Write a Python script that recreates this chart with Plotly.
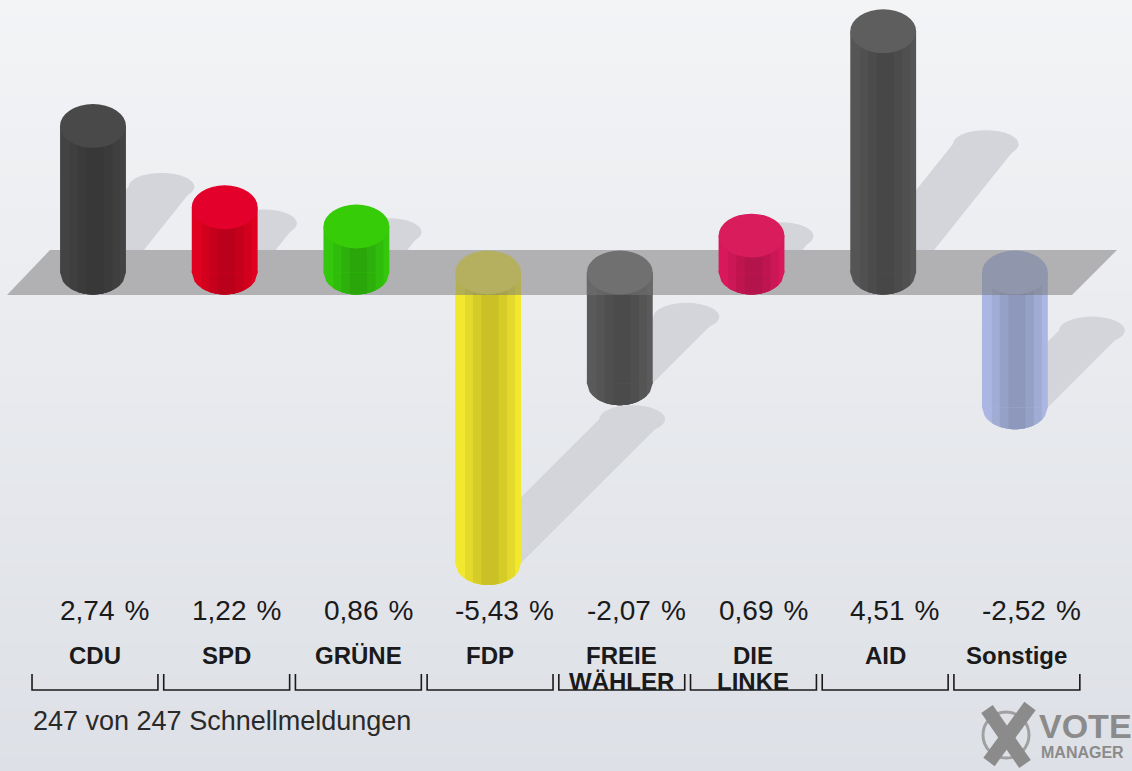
import plotly.graph_objects as go
import math

# ---------------- data ----------------
parties = ["CDU", "SPD", "GRÜNE", "FDP", "FREIE<br>WÄHLER", "DIE<br>LINKE", "AID", "Sonstige"]
values = [2.74, 1.22, 0.86, -5.43, -2.07, 0.69, 4.51, -2.52]
body_colors = ["#434343", "#e0001f", "#33c80c", "#f2e82e", "#5a5a5a", "#d8185a", "#555555", "#abb7e2"]
cap_colors = ["#494949", "#e3002a", "#36cc08", "#f2ea48", "#6a6a6a", "#d81c5c", "#5e5e5e", "#abb6e0"]
footer_text = "247 von 247 Schnellmeldungen"

# ---------------- geometry helpers (layout only) ----------------
W, H = 1132, 771
ZERO_PX, PX_PER_UNIT = 272.5, 53.5
X0_PX, PX_PER_CAT = 93.0, 131.7
XR = [-X0_PX / PX_PER_CAT, (W - X0_PX) / PX_PER_CAT]
YR = [-(H - ZERO_PX) / PX_PER_UNIT, ZERO_PX / PX_PER_UNIT]


def py(p):
    return (ZERO_PX - p) / PX_PER_UNIT


def px(p):
    return (p - X0_PX) / PX_PER_CAT


def pxp(p):
    return p / W


def pyp(p):
    return 1 - p / H


HALF_W = 0.25          # half bar width in x units
RY = 0.41              # vertical semi-axis of the cylinder ellipses
BAND_H = 0.42          # half thickness of grey band
BG_TOP, BG_BOT = (243, 244, 246), (221, 224, 230)
BAND_RGB = (118, 118, 118)
BAND_A = 0.5
SHADOW = "#d3d5da"
# shading layers: (width, darken factor)
LAYERS = [(0.5, 1.0), (0.38, 0.94), (0.26, 0.88), (0.13, 0.83)]
SHADE_C = 0.015


def hex2rgb(h):
    h = h.lstrip("#")
    return tuple(int(h[i:i + 2], 16) for i in (0, 2, 4))


def rgb(c):
    return "rgb(%d,%d,%d)" % tuple(int(round(v)) for v in c)


def darken(h, f):
    return tuple(v * f for v in hex2rgb(h))


def blend(c):
    return tuple(v * (1 - BAND_A) + bv * BAND_A for v, bv in zip(c, BAND_RGB))


def bg_at(p):
    t = p / H
    return tuple(a + (b - a) * t for a, b in zip(BG_TOP, BG_BOT))


xs = list(range(len(values)))

shapes_below = []
shapes_above = []

# background gradient
NSTRIP = 48
for k in range(NSTRIP):
    p0, p1 = H * k / NSTRIP, H * (k + 1) / NSTRIP
    shapes_below.append(dict(type="rect", xref="paper", yref="paper", layer="below",
                             x0=0, x1=1, y0=pyp(p1) - 0.002, y1=pyp(p0),
                             fillcolor=rgb(bg_at((p0 + p1) / 2)), line=dict(width=0)))

# shadows
for i, v in zip(xs, values):
    L = abs(v) + 2 * RY
    if v >= 0:
        dy, dx, y0 = 0.45 * L, 0.146 * L, 0.0
    else:
        dy, dx, y0 = 0.43 * L, 0.175 * L, v
    path = "M %f,%f L %f,%f L %f,%f L %f,%f Z" % (
        i - HALF_W, y0, i + HALF_W, y0, i + HALF_W + dx, y0 + dy, i - HALF_W + dx, y0 + dy)
    shapes_below.append(dict(type="path", path=path, xref="x", yref="y", layer="below",
                             fillcolor=SHADOW, line=dict(width=0)))
    shapes_below.append(dict(type="circle", xref="x", yref="y", layer="below",
                             x0=i - HALF_W + dx, x1=i + HALF_W + dx, y0=y0 + dy - 0.26, y1=y0 + dy + 0.26,
                             fillcolor=SHADOW, line=dict(width=0)))

# grey band (parallelogram)
band_col = rgb(blend(bg_at(272)))
band_path = "M %f,%f L %f,%f L %f,%f L %f,%f Z" % (
    px(7), -BAND_H, px(50), BAND_H, px(1117), BAND_H, px(1072), -BAND_H)
shapes_below.append(dict(type="path", path=band_path, xref="x", yref="y", layer="below",
                         fillcolor=band_col, line=dict(width=0)))


# rounded bottom ends, shaded in the same layers as the body
def half_ellipse_segment(i, yc, a, b, n=24, overlap=0.03):
    pts = []
    for k in range(n + 1):
        x = b + (a - b) * k / n
        u = max(-1.0, min(1.0, (x - i) / HALF_W))
        pts.append((x, yc - RY * math.sqrt(1 - u * u)))
    s = "M %f,%f L %f,%f " % (a, yc + overlap, b, yc + overlap)
    s += " ".join("L %f,%f" % p for p in pts) + " Z"
    return s


for i, v, bc in zip(xs, values, body_colors):
    yc = 0.0 if v >= 0 else v
    for w, f in LAYERS:
        c = i + (0 if w == 0.5 else SHADE_C)
        a, b = max(i - HALF_W, c - w / 2), min(i + HALF_W, c + w / 2)
        shapes_below.append(dict(type="path", xref="x", yref="y", layer="below",
                                 path=half_ellipse_segment(i, yc, a, b),
                                 fillcolor=rgb(darken(bc, f)), line=dict(width=0)))

# caps / band overlay for hanging bars
for i, v, bc, cc in zip(xs, values, body_colors, cap_colors):
    if v >= 0:
        shapes_above.append(dict(type="circle", xref="x", yref="y", layer="above",
                                 x0=i - HALF_W, x1=i + HALF_W, y0=v - RY, y1=v + RY,
                                 fillcolor=cc, line=dict(width=0)))
    else:
        for w, f in LAYERS:
            c = i + (0 if w == 0.5 else SHADE_C)
            shapes_above.append(dict(type="rect", xref="x", yref="y", layer="above",
                                     x0=c - w / 2, x1=c + w / 2, y0=-BAND_H, y1=0,
                                     fillcolor=rgb(blend(darken(bc, f))), line=dict(width=0)))
        shapes_above.append(dict(type="circle", xref="x", yref="y", layer="above",
                                 x0=i - HALF_W, x1=i + HALF_W, y0=-RY, y1=RY,
                                 fillcolor=rgb(blend(hex2rgb(cc))), line=dict(width=0)))

# brackets under names
yb_top, yb_bot = py(674), py(690)
for i in xs:
    a, b = i - 0.478 + 0.015, i + 0.478 + 0.015
    shapes_above.append(dict(type="path", xref="x", yref="y", layer="above",
                             path="M %f,%f L %f,%f L %f,%f L %f,%f" % (a, yb_top, a, yb_bot, b, yb_bot, b, yb_top),
                             line=dict(color="#1a1a1a", width=1.6)))

# logo shapes (paper coords)
logo_grey = "#8b8b8b"
shapes_above.append(dict(type="circle", xref="paper", yref="paper", layer="above",
                         x0=pxp(983), x1=pxp(1029), y0=pyp(758), y1=pyp(712),
                         line=dict(color="#a0a0a0", width=3)))
shapes_above.append(dict(type="line", xref="paper", yref="paper", layer="above",
                         x0=pxp(989), y0=pyp(762), x1=pxp(1030), y1=pyp(706),
                         line=dict(color=logo_grey, width=14)))
shapes_above.append(dict(type="line", xref="paper", yref="paper", layer="above",
                         x0=pxp(987), y0=pyp(709), x1=pxp(1025), y1=pyp(764),
                         line=dict(color=logo_grey, width=14)))

# ---------------- traces ----------------
fig = go.Figure()
for w, f in LAYERS:
    kw = {}
    if w != 0.5:
        kw["offset"] = SHADE_C - w / 2
    fig.add_trace(go.Bar(x=xs, y=values, width=w,
                         marker=dict(color=[rgb(darken(bc, f)) for bc in body_colors], line=dict(width=0)),
                         hoverinfo="skip", showlegend=False, **kw))

# ---------------- annotations ----------------
FONT = "Liberation Sans, Arial, sans-serif"
ann = []
for i, v in zip(xs, values):
    txt = ("%.2f" % v).replace(".", ",") + " \u200a%"
    ann.append(dict(x=i - HALF_W - 0.015, y=py(610), xref="x", yref="y", text=txt, showarrow=False,
                    xanchor="left", yanchor="middle",
                    font=dict(family=FONT, size=28, color="#1a1a1a")))
for i, name in zip(xs, parties):
    for k, line in enumerate(name.split("<br>")):
        ann.append(dict(x=i + 0.015, y=py(655 + 26 * k), xref="x", yref="y", text="<b>%s</b>" % line,
                        showarrow=False, xanchor="center", yanchor="middle",
                        font=dict(family=FONT, size=24, color="#1a1a1a")))
ann.append(dict(x=pxp(31), y=pyp(721), xref="paper", yref="paper", text=footer_text, showarrow=False,
                xanchor="left", yanchor="middle",
                font=dict(family=FONT, size=27, color="#2a2a2a")))
ann.append(dict(x=pxp(1037), y=pyp(726), xref="paper", yref="paper", text="<b>VOTE</b>", showarrow=False,
                xanchor="left", yanchor="middle",
                font=dict(family=FONT, size=34, color=logo_grey)))
ann.append(dict(x=pxp(1039), y=pyp(752), xref="paper", yref="paper", text="<b>MANAGER</b>", showarrow=False,
                xanchor="left", yanchor="middle",
                font=dict(family=FONT, size=16, color=logo_grey)))

fig.update_layout(
    width=W, height=H,
    margin=dict(l=0, r=0, t=0, b=0, pad=0),
    paper_bgcolor=rgb(BG_TOP), plot_bgcolor="rgba(0,0,0,0)",
    barmode="overlay",
    xaxis=dict(range=XR, visible=False, fixedrange=True),
    yaxis=dict(range=YR, visible=False, fixedrange=True),
    shapes=shapes_below + shapes_above,
    annotations=ann,
    showlegend=False,
)

fig.write_html("out.html", config={"displayModeBar": False},
               post_script="document.body.style.margin='0';document.body.style.overflow='hidden';")
